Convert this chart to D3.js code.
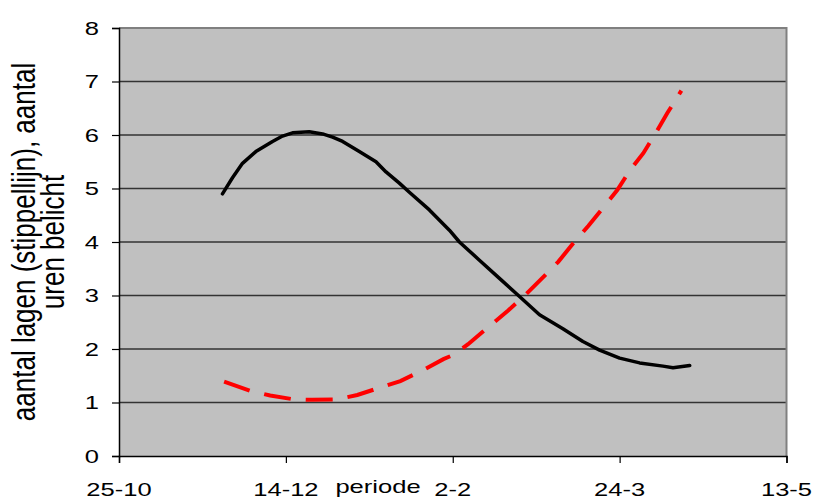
<!DOCTYPE html>
<html>
<head>
<meta charset="utf-8">
<script src="https://cdn.jsdelivr.net/npm/d3@7"></script>
<style>
html,body{margin:0;padding:0;background:#fff;}
svg{display:block;}
text{font-family:Arial,"Liberation Sans",sans-serif;fill:#000;}
</style>
</head>
<body>
<svg id="chart" width="814" height="502"></svg>
<script>
// days since 25-10
const tickDays = [0, 50, 100, 150, 200];
const tickLabels = ["25-10", "14-12", "2-2", "24-3", "13-5"];
const yTicks = [0, 1, 2, 3, 4, 5, 6, 7, 8];

// aantal uren belicht (solid black)
const lightDays = [31, 34, 37, 41, 46, 49, 52, 57, 61, 64, 67, 72, 77, 80, 84, 87, 93, 99, 102, 108, 114, 120, 126, 133, 139, 144, 150, 156, 163, 166, 171];
const lightHours = [4.9, 5.2, 5.47, 5.69, 5.88, 5.98, 6.04, 6.06, 6.02, 5.96, 5.88, 5.69, 5.5, 5.31, 5.1, 4.93, 4.6, 4.22, 4.0, 3.66, 3.32, 2.98, 2.64, 2.38, 2.14, 1.98, 1.83, 1.74, 1.68, 1.65, 1.69];

// aantal lagen (dashed red)
const layerDays = [31.5, 39.3, 45.3, 52.2, 57.9, 65.4, 71.4, 78.3, 84.3, 91.2, 97.2, 100.2, 104.6, 110.3, 116.6, 121.4, 127.7, 131.6, 136.7, 140.6, 145.7, 149.3, 153.2, 157.1, 161.3, 164.3, 168.5];
const layerCount = [1.39, 1.22, 1.13, 1.06, 1.05, 1.06, 1.14, 1.28, 1.40, 1.61, 1.81, 1.89, 2.09, 2.39, 2.72, 2.99, 3.38, 3.63, 4.02, 4.30, 4.69, 4.97, 5.35, 5.66, 6.09, 6.41, 6.83];

const xTitle = "periode";
const yTitle1 = "aantal lagen (stippellijn), aantal";
const yTitle2 = "uren belicht";

const svg = d3.select("#chart");
const L = 119, R = 786.5, T = 28, B = 456;
const x = d3.scaleLinear().domain([0, 200]).range([L, R]);
const y = d3.scaleLinear().domain([0, 8]).range([B, T]);
const SX = 1.42; // horizontal stretch of text

// plot background
svg.append("rect").attr("x", L).attr("y", T).attr("width", R - L).attr("height", B - T).attr("fill", "#c0c0c0");

// gridlines
svg.append("g").selectAll("line").data(yTicks.filter(d => d > 0 && d < 8)).join("line")
  .attr("x1", L).attr("x2", R).attr("y1", d => y(d)).attr("y2", d => y(d))
  .attr("stroke", "#333").attr("stroke-width", 1.3);

// top & right border
svg.append("path").attr("d", `M${L},${T}H${R}V${B}`).attr("fill", "none").attr("stroke", "#808080").attr("stroke-width", 2);

// Y axis
const yAxis = svg.append("g").attr("transform", `translate(${L},0)`)
  .call(d3.axisLeft(y).tickValues(yTicks).tickSize(7).tickFormat(""));
yAxis.select(".domain").attr("stroke", "#000").attr("stroke-width", 1.5);
yAxis.selectAll(".tick line").attr("stroke", "#000").attr("stroke-width", 1.2);
svg.append("g").selectAll("g").data(yTicks).join("g")
  .attr("transform", d => `translate(99,${y(d) + 6.5}) scale(${SX},1)`)
  .append("text").attr("text-anchor", "end").attr("font-size", 18).text(d => d);

// X axis
const xAxis = svg.append("g").attr("transform", `translate(0,${B})`)
  .call(d3.axisBottom(x).tickValues(tickDays).tickSize(7).tickFormat(""));
xAxis.select(".domain").attr("stroke", "#000").attr("stroke-width", 1.5);
xAxis.selectAll(".tick line").attr("stroke", "#000").attr("stroke-width", 1.2);
svg.append("g").selectAll("g").data(tickDays).join("g")
  .attr("transform", d => `translate(${x(d)},496) scale(${SX},1)`)
  .append("text").attr("text-anchor", "middle").attr("font-size", 18).text((d, i) => tickLabels[i]);

// x title
svg.append("g").attr("transform", `translate(378,493) scale(${SX},1)`)
  .append("text").attr("text-anchor", "middle").attr("font-size", 18).text(xTitle);

// y title (two lines)
svg.append("g").attr("transform", "translate(35,242) rotate(-90) scale(1,1.3)")
  .append("text").attr("text-anchor", "middle").attr("font-size", 26).text(yTitle1);
svg.append("g").attr("transform", "translate(64,242) rotate(-90) scale(1,1.25)")
  .append("text").attr("text-anchor", "middle").attr("font-size", 26).text(yTitle2);

const line = d3.line().x(d => x(d[0])).y(d => y(d[1]));

svg.append("path").datum(layerDays.map((d, i) => [d, layerCount[i]]))
  .attr("d", line).attr("fill", "none").attr("stroke", "#ff0000")
  .attr("stroke-width", 4).attr("stroke-dasharray", "27,15");

svg.append("path").datum(lightDays.map((d, i) => [d, lightHours[i]]))
  .attr("d", line).attr("fill", "none").attr("stroke", "#000")
  .attr("stroke-width", 3.5).attr("stroke-linejoin", "round").attr("stroke-linecap", "round");
</script>
</body>
</html>
